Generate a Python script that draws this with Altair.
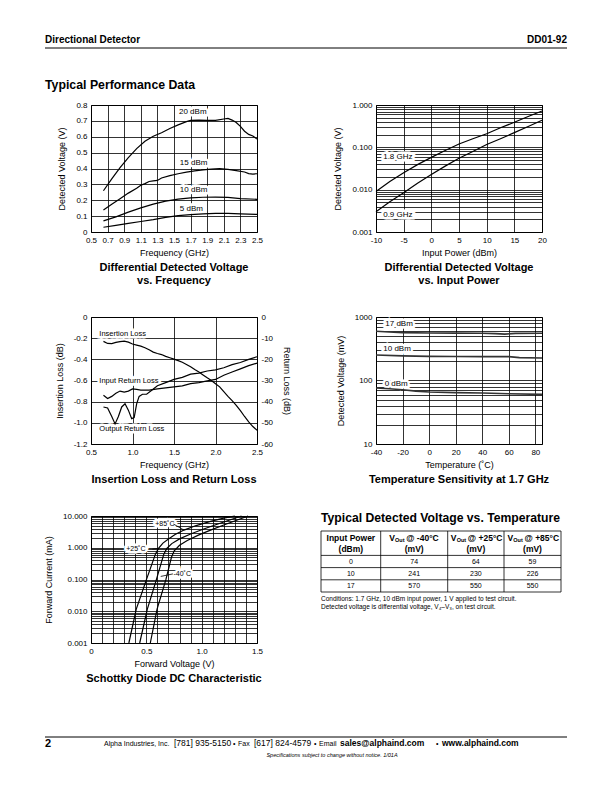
import altair as alt
import pandas as pd

FONT = "Liberation Sans, Arial, Helvetica, sans-serif"
W, H = 166, 127

# ---------------- data ----------------
# Chart 1: differential detected voltage vs frequency (V)
c1_x20 = [0.65, 0.75, 0.85, 0.95, 1.05, 1.15, 1.25, 1.35, 1.45, 1.55, 1.65, 1.7, 1.8, 1.9, 2.0, 2.1, 2.15, 2.2, 2.25, 2.3, 2.35, 2.4, 2.45, 2.5]
c1_v20 = [0.26, 0.335, 0.405, 0.468, 0.525, 0.572, 0.603, 0.625, 0.652, 0.675, 0.695, 0.703, 0.705, 0.703, 0.703, 0.712, 0.716, 0.705, 0.69, 0.665, 0.635, 0.615, 0.605, 0.585]
c1_x15 = [0.65, 0.75, 0.85, 0.95, 1.05, 1.1, 1.15, 1.2, 1.25, 1.3, 1.35, 1.45, 1.55, 1.65, 1.75, 1.85, 1.95, 2.05, 2.15, 2.25, 2.35, 2.4, 2.45, 2.5]
c1_v15 = [0.138, 0.175, 0.21, 0.245, 0.275, 0.295, 0.305, 0.318, 0.322, 0.325, 0.34, 0.355, 0.367, 0.377, 0.385, 0.391, 0.396, 0.399, 0.395, 0.387, 0.378, 0.368, 0.365, 0.367]
c1_x10 = [0.65, 0.8, 0.95, 1.1, 1.25, 1.4, 1.55, 1.7, 1.85, 2.0, 2.15, 2.3, 2.5]
c1_v10 = [0.07, 0.095, 0.125, 0.152, 0.176, 0.195, 0.207, 0.215, 0.219, 0.22, 0.218, 0.21, 0.206]
c1_x5 = [0.65, 0.8, 0.95, 1.1, 1.25, 1.4, 1.55, 1.7, 1.85, 2.0, 2.15, 2.3, 2.5]
c1_v5 = [0.03, 0.042, 0.054, 0.066, 0.078, 0.092, 0.103, 0.11, 0.114, 0.117, 0.117, 0.114, 0.111]
c1_lab = ["20 dBm", "15 dBm", "10 dBm", "5 dBm"]
c1_lab_x = [1.56, 1.57, 1.57, 1.57]
c1_lab_y = [0.756, 0.437, 0.264, 0.143]

# Chart 2: detected voltage vs input power (V)
c2_pin = [-10, -7.5, -5, -2.5, 0, 2.5, 5, 7.5, 10, 12.5, 15, 17.5, 20]
c2_v18 = [0.009, 0.0155, 0.025, 0.039, 0.058, 0.084, 0.12, 0.159, 0.21, 0.29, 0.39, 0.537, 0.72]
c2_v09 = [0.003, 0.0052, 0.0085, 0.0142, 0.0228, 0.036, 0.055, 0.08, 0.117, 0.16, 0.222, 0.31, 0.435]
c2_lab = ["1.8 GHz", "0.9 GHz"]
c2_lab_x = [-8.7, -8.7]
c2_lab_y = [0.059, 0.00252]

# Chart 3: insertion loss (dB, left) and return loss (dB, right)
c3_fil = [0.65, 0.7, 0.75, 0.8, 0.85, 0.9, 0.95, 1.0, 1.05, 1.1, 1.15, 1.2, 1.25, 1.3, 1.35, 1.4, 1.45, 1.5, 1.55, 1.6, 1.65, 1.7, 1.75, 1.8, 1.85, 1.9, 1.95, 2.0, 2.05, 2.1, 2.15, 2.2, 2.25, 2.3, 2.35, 2.4, 2.45, 2.5]
c3_il = [-0.23, -0.25, -0.252, -0.24, -0.232, -0.228, -0.238, -0.255, -0.265, -0.275, -0.29, -0.31, -0.332, -0.345, -0.355, -0.372, -0.385, -0.398, -0.412, -0.428, -0.448, -0.47, -0.497, -0.52, -0.548, -0.575, -0.6, -0.63, -0.66, -0.705, -0.75, -0.79, -0.835, -0.885, -0.94, -0.99, -1.035, -1.07]
c3_fin = [0.65, 0.7, 0.75, 0.8, 0.85, 0.9, 0.95, 1.0, 1.05, 1.1, 1.2, 1.3, 1.4, 1.5, 1.6, 1.7, 1.8, 1.9, 2.0, 2.1, 2.2, 2.3, 2.4, 2.5]
c3_irl = [-37, -38.5, -37.5, -36, -35, -35.5, -35, -34, -34.2, -34.5, -34.5, -34, -33.5, -33, -32.5, -31.5, -31, -30.2, -29.5, -27.5, -26, -24.5, -23, -21.8]
c3_fout = [0.65, 0.7, 0.75, 0.79, 0.83, 0.87, 0.91, 0.95, 0.99, 1.02, 1.05, 1.08, 1.12, 1.17, 1.22, 1.3, 1.4, 1.5, 1.6, 1.7, 1.8, 1.9, 2.0, 2.1, 2.2, 2.3, 2.4, 2.5]
c3_orl = [-42.5, -43, -47, -50.5, -47, -42.5, -41, -44, -48, -47.5, -41, -37.5, -36.5, -36.5, -35, -32.5, -31, -29.5, -28.5, -27, -26.5, -25.5, -25, -24, -22.5, -21.5, -20, -18.8]
c3_lab = ["Insertion Loss", "Input Return Loss", "Output Return Loss"]
c3_lab_x = [0.6, 0.6, 0.6]
c3_lab_y = [-0.165, -0.6, -1.06]

# Chart 4: temperature sensitivity at 1.7 GHz (mV)
c4_t17 = [-40, -30, -20, 0, 20, 40, 50, 57, 65, 85]
c4_v17 = [595, 580, 568, 560, 557, 556, 548, 538, 553, 555]
c4_t10 = [-40, -20, 0, 20, 40, 60, 68, 85]
c4_v10 = [252, 244, 240, 239, 238, 238, 229, 226]
c4_t0 = [-40, -30, -20, -10, 0, 20, 40, 60, 85]
c4_v0 = [76, 74, 71.5, 68, 66, 64.5, 63.5, 62, 60.5]
c4_lab = ["17 dBm", "10 dBm", "0 dBm"]
c4_lab_x = [-33, -34.5, -33.5]
c4_lab_y = [780, 314, 87]

# Chart 5: Schottky diode DC characteristic (V, mA)
c5_v85 = [0.342, 0.409, 0.5, 0.582, 0.61, 0.65, 0.7, 0.76, 0.84, 0.95, 1.08, 1.2, 1.3]
c5_i85 = [0.001, 0.0117, 0.097, 0.63, 0.95, 1.4, 1.9, 2.6, 3.6, 5.0, 6.8, 8.6, 10]
c5_v25 = [0.44, 0.509, 0.59, 0.658, 0.685, 0.73, 0.8, 0.9, 1.0, 1.12, 1.24, 1.36]
c5_i25 = [0.001, 0.0117, 0.097, 0.63, 0.95, 1.35, 1.9, 2.7, 3.7, 5.2, 7.2, 10]
c5_vm40 = [0.536, 0.597, 0.676, 0.727, 0.752, 0.8, 0.87, 0.97, 1.08, 1.2, 1.31, 1.42]
c5_im40 = [0.001, 0.0117, 0.097, 0.5, 0.8, 1.2, 1.7, 2.5, 3.6, 5.2, 7.2, 10]
c5_lab = ["+85˚C", "+25˚C", "-40˚C"]
c5_lab_x = [0.58, 0.318, 0.745]
c5_lab_y = [5.6, 0.91, 0.15]
c5_lead_x = [0.745, 0.555, 0.63]
c5_lead_y = [5.6, 0.91, 0.125]
c5_lead_x2 = [0.84, 0.61, 0.74]
c5_lead_y2 = [3.6, 0.95, 0.15]

# Table: typical detected voltage vs temperature (mV)
tbl_power = [0, 10, 17]
tbl_m40 = [74, 241, 570]
tbl_p25 = [64, 230, 550]
tbl_p85 = [59, 226, 550]
tbl_temp = ["-40°C", "+25°C", "+85°C"]

# ---------------- helpers ----------------
def series_df(pairs):
    rows = []
    for name, xs, ys in pairs:
        for a, b in zip(xs, ys):
            rows.append({"s": name, "x": a, "y": b})
    return pd.DataFrame(rows)


def lab_df(t, x, y):
    return pd.DataFrame({"t": t, "x": x, "y": y})


def log_vals(lo, hi):
    v = [round(k * 10.0 ** e, 6) for e in range(lo, hi) for k in range(1, 10)]
    return v + [round(10.0 ** hi, 6)]


def dec_expr(fmt):
    return ("abs(log(datum.value)/LN10 - round(log(datum.value)/LN10)) < 0.001 ? "
            "format(datum.value, '%s') : ''" % fmt)


def hy_expr(fmt):
    return ("datum.value == 0 ? '0' : (datum.value < 0 ? '-' : '') + format(abs(datum.value), '%s')" % fmt)


def curves(df, x, y, color="black", width=1.2):
    return alt.Chart(df).mark_line(color=color, strokeWidth=width).encode(x=x, y=y, detail="s:N")


def labels(df, size=8):
    halo = alt.Chart(df).mark_text(align="left", baseline="middle", font=FONT, fontSize=size,
                                   color="white", stroke="white", strokeWidth=5).encode(
        x="x:Q", y="y:Q", text="t:N")
    txt = alt.Chart(df).mark_text(align="left", baseline="middle", font=FONT, fontSize=size,
                                  color="black").encode(x="x:Q", y="y:Q", text="t:N")
    return halo, txt


def vtext(text, x, y, size, weight="normal", align="left", style="normal", baseline="alphabetic"):
    return alt.Chart(pd.DataFrame({"t": [text]})).mark_text(
        align=align, baseline=baseline, fontSize=size, fontWeight=weight, font=FONT,
        fontStyle=style, color="black").encode(x=alt.value(x), y=alt.value(y), text="t:N")


def vrule(x1, x2, y):
    return alt.Chart(pd.DataFrame({"a": [0]})).mark_rule(color="black", strokeWidth=1).encode(
        x=alt.value(x1), x2=alt.value(x2), y=alt.value(y))


def ax(values, title, **kw):
    return alt.Axis(values=values, tickCount=len(values), title=title, **kw)

# ---------------- chart 1 ----------------
df1 = series_df([("20", c1_x20, c1_v20), ("15", c1_x15, c1_v15), ("10", c1_x10, c1_v10), ("5", c1_x5, c1_v5)])
x1 = alt.X("x:Q", scale=alt.Scale(domain=[0.5, 2.5], nice=False, zero=False),
           axis=ax([0.5, 0.7, 0.9, 1.1, 1.3, 1.5, 1.7, 1.9, 2.1, 2.3, 2.5], "Frequency (GHz)", format=".1f"))
y1 = alt.Y("y:Q", scale=alt.Scale(domain=[0, 0.8], nice=False),
           axis=ax([0, 0.1, 0.2, 0.3, 0.4, 0.5, 0.6, 0.7, 0.8], "Detected Voltage (V)",
                   labelExpr="datum.value == 0 ? '0' : format(datum.value, '.1f')"))
h1, t1 = labels(lab_df(c1_lab, c1_lab_x, c1_lab_y))
c1 = alt.layer(h1, curves(df1, x1, y1), t1).properties(
    width=W, height=H, title=alt.TitleParams(["Differential Detected Voltage", "vs. Frequency"]))

# ---------------- chart 2 ----------------
df2 = series_df([("1.8", c2_pin, c2_v18), ("0.9", c2_pin, c2_v09)])
x2 = alt.X("x:Q", scale=alt.Scale(domain=[-10, 20], nice=False, zero=False),
           axis=ax([-10, -5, 0, 5, 10, 15, 20], "Input Power (dBm)", labelExpr=hy_expr("d")))
y2 = alt.Y("y:Q", scale=alt.Scale(type="log", domain=[0.001, 1], nice=False),
           axis=ax(log_vals(-3, 0), "Detected Voltage (V)", labelExpr=dec_expr(".3f")))
h2, t2 = labels(lab_df(c2_lab, c2_lab_x, c2_lab_y))
c2 = alt.layer(h2, curves(df2, x2, y2), t2).properties(
    width=W, height=H, title=alt.TitleParams(["Differential Detected Voltage", "vs. Input Power"]))

# ---------------- chart 3 ----------------
df3a = series_df([("il", c3_fil, c3_il)])
df3b = series_df([("in", c3_fin, c3_irl), ("out", c3_fout, c3_orl)])
x3 = alt.X("x:Q", scale=alt.Scale(domain=[0.5, 2.5], nice=False, zero=False),
           axis=ax([0.5, 1.0, 1.5, 2.0, 2.5], "Frequency (GHz)", format=".1f"))
y3 = alt.Y("y:Q", scale=alt.Scale(domain=[-1.2, 0], nice=False),
           axis=ax([0, -0.2, -0.4, -0.6, -0.8, -1.0, -1.2], "Insertion Loss (dB)",
                   labelExpr=hy_expr(".1f"), orient="left"))
y3r = alt.Y("y:Q", scale=alt.Scale(domain=[-60, 0], nice=False),
            axis=ax([0, -10, -20, -30, -40, -50, -60], "Return Loss (dB)", labelExpr=hy_expr("d"),
                    orient="right", grid=False))
h3, t3 = labels(lab_df(c3_lab, c3_lab_x, c3_lab_y), size=7.5)
left3 = alt.layer(h3, curves(df3a, x3, y3), t3)
right3 = curves(df3b, x3, y3r)
c3 = alt.layer(left3, right3).resolve_scale(y="independent").properties(
    width=W, height=H, title=alt.TitleParams("Insertion Loss and Return Loss"))

# ---------------- chart 4 ----------------
df4 = series_df([("17", c4_t17, c4_v17), ("10", c4_t10, c4_v10), ("0", c4_t0, c4_v0)])
x4 = alt.X("x:Q", scale=alt.Scale(domain=[-40, 85], nice=False, zero=False),
           axis=ax([-40, -20, 0, 20, 40, 60, 80], "Temperature (˚C)", labelExpr=hy_expr("d")))
y4 = alt.Y("y:Q", scale=alt.Scale(type="log", domain=[10, 1000], nice=False),
           axis=ax(log_vals(1, 3), "Detected Voltage (mV)", labelExpr=dec_expr("d")))
h4, t4 = labels(lab_df(c4_lab, c4_lab_x, c4_lab_y))
c4 = alt.layer(h4, curves(df4, x4, y4, color="#333333", width=1.6), t4).properties(
    width=W, height=H, title=alt.TitleParams("Temperature Sensitivity at 1.7 GHz"))

# ---------------- chart 5 ----------------
df5 = series_df([("85", c5_v85, c5_i85), ("25", c5_v25, c5_i25), ("-40", c5_vm40, c5_im40)])
x5_vals = [0, 0.1, 0.2, 0.3, 0.4, 0.5, 0.6, 0.7, 0.8, 0.9, 1.0, 1.1, 1.2, 1.3, 1.4, 1.5]
x5 = alt.X("x:Q", scale=alt.Scale(domain=[0, 1.5], nice=False),
           axis=ax(x5_vals, "Forward Voltage (V)",
                   labelExpr="abs(datum.value*2 - round(datum.value*2)) < 0.001 ? "
                             "(datum.value == 0 ? '0' : format(datum.value, '.1f')) : ''"))
y5 = alt.Y("y:Q", scale=alt.Scale(type="log", domain=[0.001, 10], nice=False),
           axis=ax(log_vals(-3, 1), "Forward Current (mA)", labelExpr=dec_expr(".3f")))
h5, t5 = labels(lab_df(c5_lab, c5_lab_x, c5_lab_y), size=7)
lead5 = alt.Chart(pd.DataFrame({"x": c5_lead_x, "y": c5_lead_y, "x2": c5_lead_x2, "y2": c5_lead_y2})).mark_rule(
    color="black", strokeWidth=0.8).encode(x="x:Q", y="y:Q", x2="x2:Q", y2="y2:Q")
c5 = alt.layer(h5, curves(df5, x5, y5), lead5, t5).properties(
    width=W, height=H, title=alt.TitleParams("Schottky Diode DC Characteristic"))

# ---------------- table ----------------
tx = alt.Scale(domain=[0, 1, 2, 3, 4], range=[-55, 4.7, 71.7, 128, 185])
ty = alt.Scale(domain=[0, 5], range=[15, 76])
cells = []
for r, vals in enumerate(zip(tbl_power, tbl_m40, tbl_p25, tbl_p85)):
    for c, v in enumerate(vals):
        cells.append({"x": c + 0.5, "y": r + 2.5, "t": str(v)})
cells = pd.DataFrame(cells)
TX = alt.X("x:Q", scale=tx, axis=None)
TY = alt.Y("y:Q", scale=ty, axis=None)
t_cells = alt.Chart(cells).mark_text(font=FONT, fontSize=7, baseline="middle", color="black").encode(
    x=TX, y=TY, text="t:N")
hdr2 = pd.DataFrame({"x": [0.5, 1.5, 2.5, 3.5], "y": [1.45] * 4, "t": ["(dBm)", "(mV)", "(mV)", "(mV)"]})
hdr1 = pd.DataFrame({"x": [0.5], "y": [0.55], "t": ["Input Power"]})
hv = pd.DataFrame({"x": [1.5, 2.5, 3.5], "y": [0.55] * 3, "t": ["@ " + s for s in tbl_temp]})
t_h2 = alt.Chart(hdr2).mark_text(font=FONT, fontSize=8.5, fontWeight="bold", baseline="middle").encode(x=TX, y=TY, text="t:N")
t_h1 = alt.Chart(hdr1).mark_text(font=FONT, fontSize=8.5, fontWeight="bold", baseline="middle").encode(x=TX, y=TY, text="t:N")
t_v = alt.Chart(hv).mark_text(font=FONT, fontSize=8.5, fontWeight="bold", baseline="middle", align="left", dx=-25).encode(
    x=TX, y=TY, text=alt.value("V"))
t_out = alt.Chart(hv).mark_text(font=FONT, fontSize=5.5, fontWeight="bold", baseline="middle", align="left", dx=-19.2, dy=2).encode(
    x=TX, y=TY, text=alt.value("Out"))
t_rest = alt.Chart(hv).mark_text(font=FONT, fontSize=8.5, fontWeight="bold", baseline="middle", align="left", dx=-8).encode(
    x=TX, y=TY, text="t:N")
hl = pd.DataFrame({"x": [0] * 5, "x2": [4] * 5, "y": [0, 2, 3, 4, 5]})
vl = pd.DataFrame({"x": [0, 1, 2, 3, 4], "y": [0] * 5, "y2": [5] * 5})
r_h = alt.Chart(hl).mark_rule(color="black", strokeWidth=0.8).encode(x=TX, x2="x2:Q", y=TY)
r_v = alt.Chart(vl).mark_rule(color="black", strokeWidth=0.8).encode(x=TX, y=TY, y2="y2:Q")
tbl_title = vtext("Typical Detected Voltage vs. Temperature", -55, 6, 12.2, "bold")
note1 = vtext("Conditions: 1.7 GHz, 10 dBm input power, 1 V applied to test circuit.", -55, 83, 6.5, baseline="middle")
note2 = vtext("Detected voltage is differential voltage, V₄–V₃, on test circuit.", -55, 91, 6.5, baseline="middle")
table = alt.layer(r_h, r_v, t_cells, t_h1, t_h2, t_v, t_out, t_rest, tbl_title, note1, note2).properties(
    width=W, height=H, view=alt.ViewBackground(stroke="transparent"))

# ---------------- page header / footer (placed in the first spacer, origin at x=91, y=231) ----------------
page = [
    vtext("Directional Detector", -46, -189, 10, "bold"),
    vtext("DD01-92", 476, -189, 10, "bold", align="right"),
    vrule(-46, 476, -184),
    vtext("Typical Performance Data", -46, -143, 12.3, "bold"),
    vrule(-46, 476, 505),
    vtext("2", -46, 515, 11, "bold"),
    vtext("Alpha Industries, Inc.", 13, 514, 7),
    vtext("[781] 935-5150", 83, 514, 8.5),
    vtext("•", 142, 514, 7),
    vtext("Fax", 147, 514, 7),
    vtext("[617] 824-4579", 163, 514, 8.5),
    vtext("•", 223, 514, 7),
    vtext("Email", 228, 514, 7),
    vtext("sales@alphaind.com", 249, 514, 8.5, "bold"),
    vtext("•", 345, 514, 7),
    vtext("www.alphaind.com", 351, 514, 8.5, "bold"),
    vtext("Specifications subject to change without notice.  1/01A", 241, 525, 5.5, style="italic", align="center"),
]


def spacer(h, extra=()):
    dot = alt.Chart(pd.DataFrame({"a": [0]})).mark_point(opacity=0).encode(x=alt.value(0), y=alt.value(0))
    return alt.layer(dot, *extra).properties(width=1, height=h, view=alt.ViewBackground(stroke="transparent"))


chart = alt.concat(
    c1, c2, spacer(85, page), spacer(85), c3, c4, spacer(72), spacer(72), c5, table,
    columns=2, spacing={"row": 0, "column": 119}, bounds="flush", align="each",
).properties(
    padding={"left": 36, "top": 26, "right": 5, "bottom": 5}
).configure_view(
    stroke="black", strokeWidth=1
).configure_axis(
    ticks=False, domain=False, labelFont=FONT, labelFontSize=8, labelColor="black",
    titleFont=FONT, titleFontSize=9, titleFontWeight="normal", titleColor="black",
    gridColor="black", gridWidth=0.8, gridOpacity=1, labelFlush=False, labelOverlap=False,
    labelBound=False
).configure_axisX(
    labelPadding=4, titlePadding=4
).configure_axisY(
    labelPadding=4, titlePadding=9
).configure_title(
    font=FONT, fontSize=11, fontWeight="bold", color="black", orient="bottom", anchor="middle",
    offset=5, lineHeight=13
)

chart.save("out.html", embed_options={"renderer": "svg", "actions": False})
